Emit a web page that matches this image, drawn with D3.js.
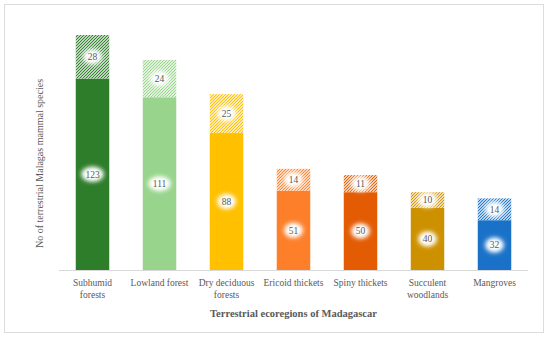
<!DOCTYPE html>
<html>
<head>
<meta charset="utf-8">
<script src="https://cdn.jsdelivr.net/npm/d3@7"></script>
<style>
  body { margin: 0; background: #fff; }
  text { font-family: "Liberation Serif", "DejaVu Serif", serif; fill: #595959; }
</style>
</head>
<body>
<script>
// ecoregions and species counts (solid = base, hatched = additional)
var categories = ["Subhumid forests", "Lowland forest", "Dry deciduous forests", "Ericoid thickets", "Spiny thickets", "Succulent woodlands", "Mangroves"];
var tickLines = [["Subhumid", "forests"], ["Lowland forest"], ["Dry deciduous", "forests"], ["Ericoid thickets"], ["Spiny thickets"], ["Succulent", "woodlands"], ["Mangroves"]];
var baseValues = [123, 111, 88, 51, 50, 40, 32];
var extraValues = [28, 24, 25, 14, 11, 10, 14];
var barColors = ["#2e7d2a", "#98d48c", "#ffc000", "#fd7f2a", "#e35c03", "#cd9100", "#1a72c8"];

var W = 550, H = 339;
var margin = { top: 21, right: 22, bottom: 69, left: 59 };
var width = W - margin.left - margin.right,
    height = H - margin.top - margin.bottom;

var svg = d3.select("body").append("svg")
  .attr("width", W).attr("height", H);

// outer frame
svg.append("rect")
  .attr("x", 4.5).attr("y", 4.5)
  .attr("width", 539).attr("height", 328)
  .attr("fill", "none").attr("stroke", "#dcdcdc");

var defs = svg.append("defs");

// diagonal hatch pattern per colour
barColors.forEach(function(c, i) {
  var p = defs.append("pattern")
    .attr("id", "hatch" + i)
    .attr("patternUnits", "userSpaceOnUse")
    .attr("width", 3).attr("height", 3);
  p.append("rect").attr("width", 3).attr("height", 3).attr("fill", "#fff");
  p.append("path")
    .attr("d", "M-1,1 l2,-2 M0,3 l3,-3 M2,4 l2,-2")
    .attr("stroke", c).attr("stroke-width", 1.2);
});

// soft white glow behind labels
defs.append("filter").attr("id", "blur")
  .attr("x", "-100%").attr("y", "-100%").attr("width", "300%").attr("height", "300%")
  .append("feGaussianBlur").attr("stdDeviation", 2.5);

var g = svg.append("g")
  .attr("transform", "translate(" + margin.left + "," + margin.top + ")");

var x = d3.scaleBand().domain(categories).range([0, width]).paddingInner(0.5).paddingOuter(0.25);
var y = d3.scaleLinear().domain([0, 160]).range([height, 0]);

var data = categories.map(function(c, i) {
  return { cat: c, base: baseValues[i], extra: extraValues[i], i: i };
});

// solid segments
g.selectAll(".base").data(data).enter().append("rect")
  .attr("x", d => x(d.cat))
  .attr("y", d => y(d.base))
  .attr("width", x.bandwidth())
  .attr("height", d => y(0) - y(d.base))
  .attr("fill", d => barColors[d.i]);

// hatched segments
g.selectAll(".extra").data(data).enter().append("rect")
  .attr("x", d => x(d.cat))
  .attr("y", d => y(d.base + d.extra))
  .attr("width", x.bandwidth())
  .attr("height", d => y(d.base) - y(d.base + d.extra))
  .attr("fill", d => "url(#hatch" + d.i + ")");

// labels
function addLabels(cls, yv, txt) {
  var lg = g.selectAll("." + cls).data(data).enter().append("g")
    .attr("transform", d => "translate(" + (x(d.cat) + x.bandwidth() / 2) + "," + yv(d) + ")");
  lg.append("ellipse").attr("rx", d => String(txt(d)).length > 2 ? 11 : 9).attr("ry", 7)
    .attr("fill", "#fff").attr("filter", "url(#blur)");
  lg.append("ellipse").attr("rx", d => String(txt(d)).length > 2 ? 9 : 7).attr("ry", 5.5)
    .attr("fill", "#fff").attr("filter", "url(#blur)");
  lg.append("text")
    .attr("text-anchor", "middle").attr("dy", "0.35em")
    .style("font-size", "9.5px")
    .text(txt);
}
addLabels("lb", d => y(d.base / 2), d => d.base);
addLabels("le", d => y(d.base + d.extra / 2), d => d.extra);

// x axis
var xAxis = g.append("g")
  .attr("transform", "translate(0," + height + ")")
  .call(d3.axisBottom(x).tickSize(0).tickFormat(""));
xAxis.select(".domain").attr("stroke", "#d9d9d9").attr("d", "M0,0.5H" + width);

xAxis.selectAll(".tick").each(function(d, i) {
  var t = d3.select(this).append("text")
    .attr("text-anchor", "middle")
    .attr("y", 16)
    .style("font-size", "9.5px")
    .style("fill", "#595959");
  tickLines[i].forEach(function(line, k) {
    t.append("tspan").attr("x", 0).attr("dy", k === 0 ? 0 : 12).text(line);
  });
});

// axis titles
g.append("text")
  .attr("text-anchor", "middle")
  .attr("x", width / 2).attr("y", height + 47)
  .style("font-size", "10.5px").style("font-weight", "bold")
  .text("Terrestrial ecoregions of Madagascar");

g.append("text")
  .attr("text-anchor", "middle")
  .attr("transform", "translate(" + (-16) + "," + (height / 2 + 18) + ")rotate(-90)")
  .style("font-size", "10px")
  .text("No of terrestrial Malagas mammal  species");
</script>
</body>
</html>
